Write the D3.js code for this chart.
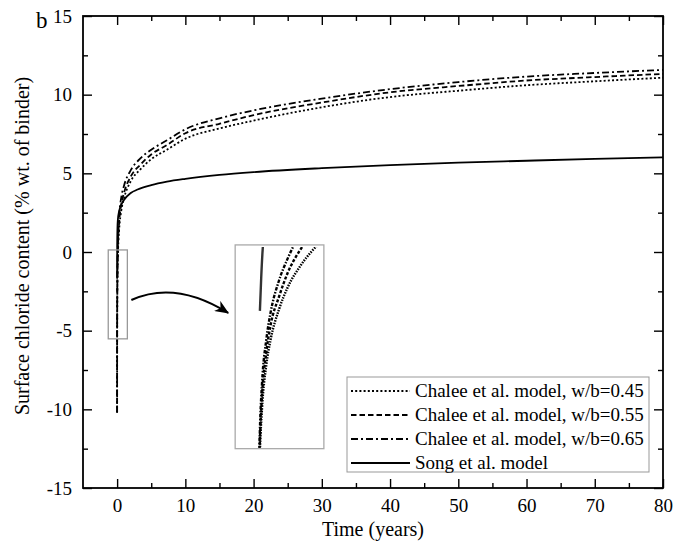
<!DOCTYPE html>
<html><head><meta charset="utf-8">
<script src="https://cdn.jsdelivr.net/npm/d3@7"></script>
<style>
body{margin:0;background:#fff}
svg{display:block}
text{font-family:"Liberation Serif","Times New Roman",serif;fill:#000}
</style>
</head><body>
<svg id="chart" width="684" height="546"></svg>
<script>
// ---- data ----
const chaleeTime = [0.0003,0.001,0.003,0.005,0.01,0.02,0.03,0.05,0.07,0.1,0.15,0.3,0.6,1,2,3.4,5,7.3,10,15,20,30,40,50,60,70,80];
const chalee045 = [-10.2,-8.3,-6.45,-5.6,-4.4,-3.2,-2.5,-1.65,-1.05,-0.45,0.25,1.45,2.6,3.4,4.5,5.25,5.9,6.5,7.2,7.85,8.35,9.2,9.85,10.25,10.6,10.85,11.08];
const chalee055 = [-10.2,-8.15,-6.2,-5.3,-4.05,-2.85,-2.1,-1.3,-0.65,0.0,0.7,1.9,3.0,3.75,4.8,5.55,6.2,6.8,7.55,8.15,8.7,9.5,10.15,10.55,10.9,11.12,11.32];
const chalee065 = [-10.2,-8.0,-5.95,-5.0,-3.7,-2.5,-1.75,-0.85,-0.25,0.45,1.15,2.35,3.45,4.2,5.2,5.95,6.5,7.1,7.8,8.5,9.0,9.75,10.35,10.8,11.15,11.38,11.57];
const songTime = [0.005,0.008,0.0115,0.02,0.05,0.1,0.3,0.5,1,2,3,5,7.3,10,15,20,30,40,50,60,70,80];
const songValues = [-1.7,-0.8,0.0,0.7,1.5,2.0,2.6,2.9,3.3,3.75,3.97,4.25,4.47,4.65,4.9,5.08,5.33,5.52,5.68,5.8,5.92,6.02];

const seriesNames = ["Chalee et al. model, w/b=0.45","Chalee et al. model, w/b=0.55","Chalee et al. model, w/b=0.65","Song et al. model"];

const xTickValues = [0,10,20,30,40,50,60,70,80];
const xTickLabels = ["0","10","20","30","40","50","60","70","80"];
const xMinorValues = [5,15,25,35,45,55,65,75];
const yTickValues = [-15,-10,-5,0,5,10,15];
const yTickLabels = ["-15","-10","-5","0","5","10","15"];
const yMinorValues = [-12.5,-7.5,-2.5,2.5,7.5,12.5];

const xDomain = [-5,80];
const yDomain = [-15,15];
// zoom indicator rectangle (data units) and magnified inset view
const zoomTime = [-1.3,1.5];
const zoomValue = [-5.52,0.13];
const insetBoxTime = [17.3,30.3];
const insetBoxValue = [-12.5,0.45];
const insetTime = [-0.053,0.155];
const insetValue = [-5.52,0.13];

// ---- layout ----
const svg = d3.select("#chart");
const L = 83, R = 663, T = 16, B = 488;
const x = d3.scaleLinear().domain(xDomain).range([L,R]);
const y = d3.scaleLinear().domain(yDomain).range([B,T]);

const styles = [
  {dash:"2,2.2", w:1.8},
  {dash:"5.5,3", w:1.8},
  {dash:"7,3,2,3", w:1.8},
  {dash:null, w:1.8}
];

const seriesData = [
  chaleeTime.map((t,i)=>[t,chalee045[i]]),
  chaleeTime.map((t,i)=>[t,chalee055[i]]),
  chaleeTime.map((t,i)=>[t,chalee065[i]]),
  songTime.map((t,i)=>[t,songValues[i]])
];

// axes
const fontSize = 19;
function styleAxis(g){
  g.select(".domain").remove();
  g.selectAll("line").attr("stroke","#000").attr("stroke-width",1.4);
  g.selectAll("text").style("font-size",fontSize+"px").style("font-family","'Liberation Serif','Times New Roman',serif");
}
svg.append("g").attr("transform",`translate(0,${B})`)
  .call(d3.axisBottom(x).tickValues(xTickValues).tickFormat((d,i)=>xTickLabels[i]).tickSizeInner(-9).tickSizeOuter(0).tickPadding(11))
  .call(styleAxis);
svg.append("g").attr("transform",`translate(0,${B})`)
  .call(d3.axisBottom(x).tickValues(xMinorValues).tickFormat("").tickSizeInner(-5).tickSizeOuter(0))
  .call(styleAxis);
svg.append("g").attr("transform",`translate(0,${T})`)
  .call(d3.axisTop(x).tickValues(xTickValues).tickFormat("").tickSizeInner(-9).tickSizeOuter(0))
  .call(styleAxis);
svg.append("g").attr("transform",`translate(0,${T})`)
  .call(d3.axisTop(x).tickValues(xMinorValues).tickFormat("").tickSizeInner(-5).tickSizeOuter(0))
  .call(styleAxis);
svg.append("g").attr("transform",`translate(${L},0)`)
  .call(d3.axisLeft(y).tickValues(yTickValues).tickFormat((d,i)=>yTickLabels[i]).tickSizeInner(-9).tickSizeOuter(0).tickPadding(11))
  .call(styleAxis);
svg.append("g").attr("transform",`translate(${L},0)`)
  .call(d3.axisLeft(y).tickValues(yMinorValues).tickFormat("").tickSizeInner(-5).tickSizeOuter(0))
  .call(styleAxis);
svg.append("g").attr("transform",`translate(${R},0)`)
  .call(d3.axisRight(y).tickValues(yTickValues).tickFormat("").tickSizeInner(-9).tickSizeOuter(0))
  .call(styleAxis);
svg.append("g").attr("transform",`translate(${R},0)`)
  .call(d3.axisRight(y).tickValues(yMinorValues).tickFormat("").tickSizeInner(-5).tickSizeOuter(0))
  .call(styleAxis);

// frame
svg.append("rect").attr("x",L).attr("y",T).attr("width",R-L).attr("height",B-T)
  .attr("fill","none").attr("stroke","#000").attr("stroke-width",1.8);

// clip for plot
const defs = svg.append("defs");
defs.append("clipPath").attr("id","plotClip").append("rect")
  .attr("x",L).attr("y",T).attr("width",R-L).attr("height",B-T);

const line = d3.line().x(d=>x(d[0])).y(d=>y(d[1])).curve(d3.curveMonotoneX);
const plot = svg.append("g").attr("clip-path","url(#plotClip)");
seriesData.forEach((s,i)=>{
  plot.append("path").datum(s).attr("d",line)
    .attr("fill","none").attr("stroke","#000")
    .attr("stroke-width",styles[i].w)
    .attr("stroke-dasharray",styles[i].dash);
});

// zoom indicator rectangle
svg.append("rect")
  .attr("x",x(zoomTime[0])).attr("y",y(zoomValue[1]))
  .attr("width",x(zoomTime[1])-x(zoomTime[0])).attr("height",y(zoomValue[0])-y(zoomValue[1]))
  .attr("fill","none").attr("stroke","#999").attr("stroke-width",1.3);

// inset
const ix0 = x(insetBoxTime[0]), ix1 = x(insetBoxTime[1]);
const iy0 = y(insetBoxValue[1]), iy1 = y(insetBoxValue[0]);
const xi = d3.scaleLinear().domain(insetTime).range([ix0,ix1]);
const yi = d3.scaleLinear().domain(insetValue).range([iy1,iy0]);
defs.append("clipPath").attr("id","insetClip").append("rect")
  .attr("x",ix0).attr("y",iy0+2).attr("width",ix1-ix0).attr("height",iy1-iy0-3);
svg.append("rect").attr("x",ix0).attr("y",iy0).attr("width",ix1-ix0).attr("height",iy1-iy0)
  .attr("fill","#fff").attr("stroke","#aaa").attr("stroke-width",1.3);
const lineI = d3.line().x(d=>xi(d[0])).y(d=>yi(d[1])).curve(d3.curveMonotoneX);
const insetG = svg.append("g").attr("clip-path","url(#insetClip)");
const insetStyles = [
  {dash:"1.5,1.2", w:2.4},
  {dash:"3,1.8", w:2.4},
  {dash:"3.5,1.5,1.5,1.5", w:2.4},
  {dash:null, w:2.4}
];
seriesData.forEach((s,i)=>{
  insetG.append("path").datum(s).attr("d",lineI)
    .attr("fill","none").attr("stroke",i===3?"#333":"#000")
    .attr("stroke-width",insetStyles[i].w)
    .attr("stroke-dasharray",insetStyles[i].dash);
});

// arrow
defs.append("marker").attr("id","arrowHead").attr("viewBox","0 0 14 12")
  .attr("refX",13).attr("refY",6).attr("markerWidth",14).attr("markerHeight",12)
  .attr("markerUnits","userSpaceOnUse").attr("orient","auto")
  .append("path").attr("d","M0,0 L14,6 L0,12 L4,6 Z").attr("fill","#000");
const ax0 = x(zoomTime[1])+4, ay0 = y(-3.05);
const ax1 = ix0-7, ay1 = y(-3.87);
svg.append("path")
  .attr("d",`M${ax0},${ay0} Q${ax0+44},${ay0-20} ${ax1},${ay1}`)
  .attr("fill","none").attr("stroke","#000").attr("stroke-width",2)
  .attr("marker-end","url(#arrowHead)");

// legend
const lg = svg.append("g");
const lgX0 = 347, lgX1 = 649, lgY0 = 377, lgY1 = 472;
lg.append("rect").attr("x",lgX0).attr("y",lgY0).attr("width",lgX1-lgX0).attr("height",lgY1-lgY0)
  .attr("fill","#fff").attr("stroke","#999").attr("stroke-width",1);
seriesNames.forEach((name,i)=>{
  const cy = 391 + i*24;
  lg.append("line").attr("x1",lgX0+4).attr("x2",410).attr("y1",cy).attr("y2",cy)
    .attr("stroke","#000").attr("stroke-width",styles[i].w).attr("stroke-dasharray",styles[i].dash);
  lg.append("text").attr("x",415).attr("y",cy+6).style("font-size","19px").text(name);
});

// titles
svg.append("text").attr("x",(L+R)/2).attr("y",536).attr("text-anchor","middle")
  .style("font-size","20px").text("Time (years)");
svg.append("text").attr("transform","translate(29,246) rotate(-90)").attr("text-anchor","middle")
  .style("font-size","20px").text("Surface chloride content (% wt. of binder)");
svg.append("text").attr("x",36).attr("y",28).style("font-size","23px").text("b");
</script>
</body></html>
